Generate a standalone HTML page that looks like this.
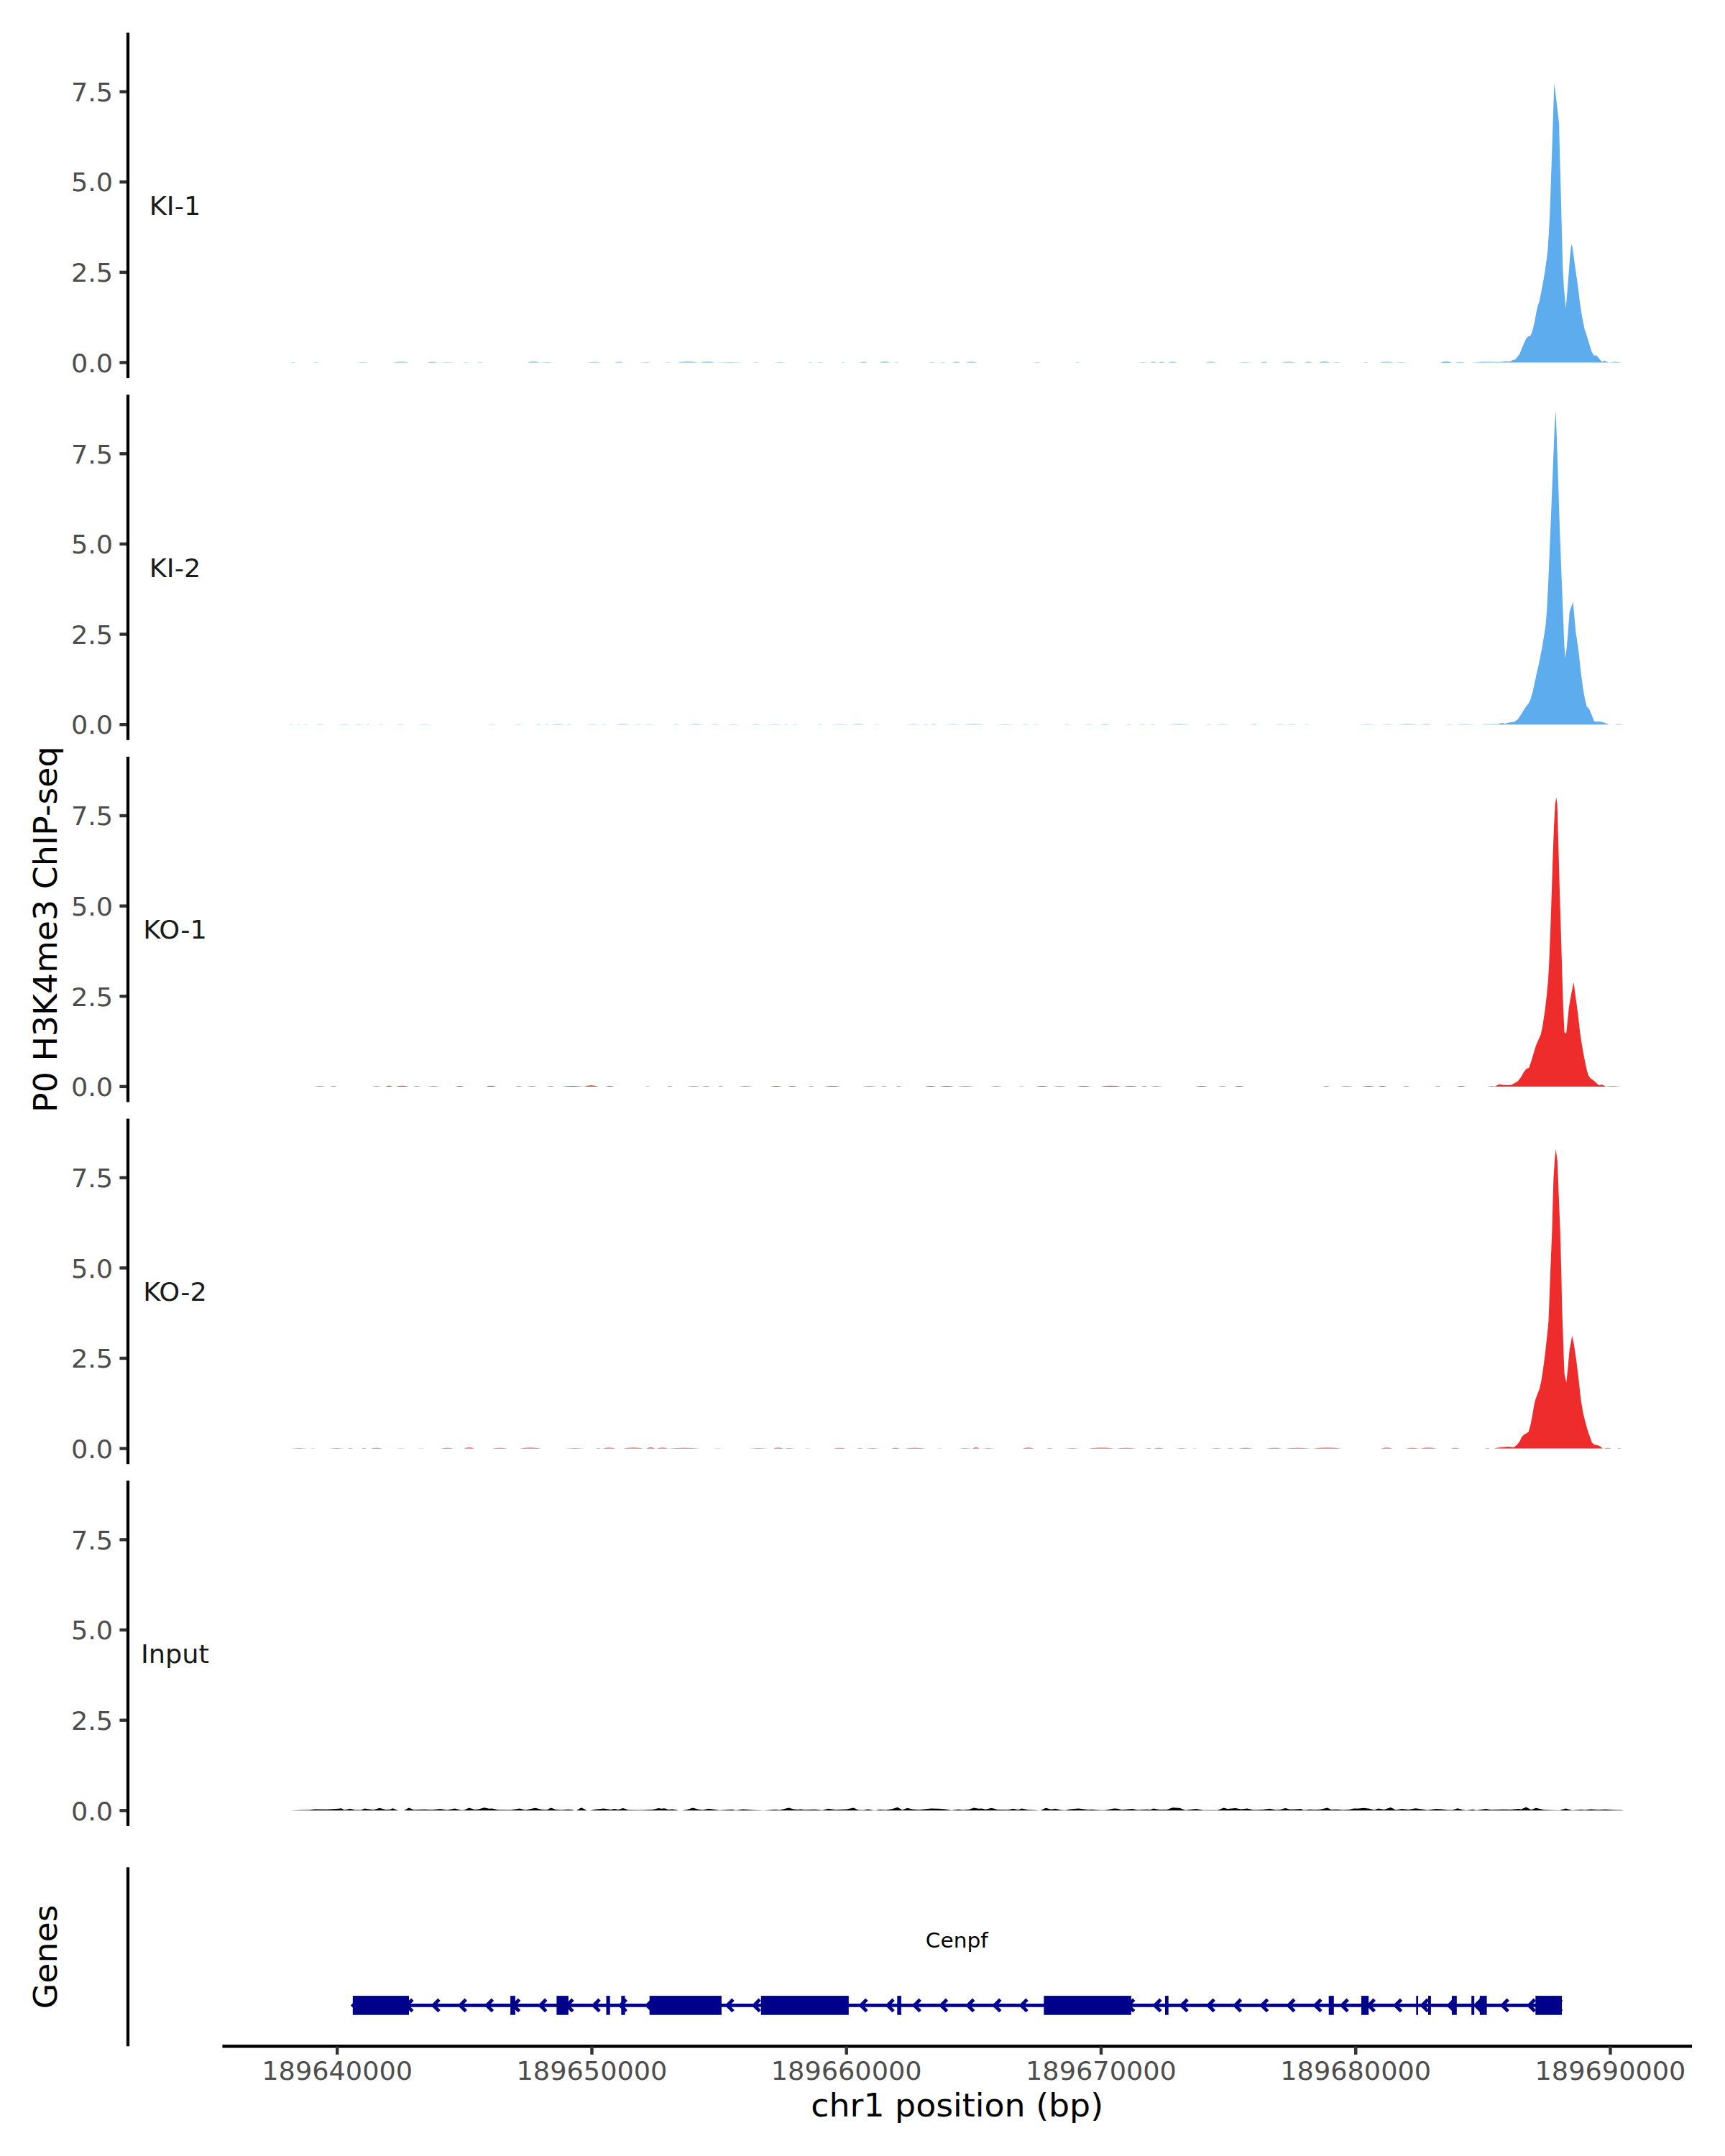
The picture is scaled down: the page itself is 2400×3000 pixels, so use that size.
<!DOCTYPE html>
<html lang="en"><head><meta charset="utf-8"><title>P0 H3K4me3 ChIP-seq coverage — Cenpf</title>
<style>html,body{margin:0;padding:0;background:#fff}svg{display:block}</style></head>
<body>
<svg width="2400" height="3000" viewBox="0 0 2400 3000" font-family='"DejaVu Sans", "Liberation Sans", sans-serif'>
<rect width="2400" height="3000" fill="#fff"/>
<path d="M2004.2 504.5 L2004.2 504.4 L2012.5 503.2 L2019.8 504.4 L2048.0 504.4 L2062.6 503.6 L2087.7 503.8 L2095.0 502.8 L2100.2 503.2 L2104.4 501.3 L2108.6 500.0 L2114.4 492.3 L2119.0 480.8 L2123.2 471.4 L2126.3 467.7 L2128.8 468.3 L2131.9 461.0 L2134.7 449.5 L2137.4 434.9 L2139.5 425.5 L2142.0 418.2 L2146.1 397.3 L2149.3 378.5 L2152.0 359.7 L2153.4 347.2 L2154.9 324.3 L2156.2 299.2 L2157.6 259.5 L2159.1 215.7 L2160.8 163.5 L2162.4 115.5 L2166.0 144.7 L2169.1 171.9 L2170.1 213.6 L2171.6 267.9 L2172.9 320.1 L2174.3 372.3 L2175.8 399.4 L2178.5 429.1 L2181.6 393.2 L2184.1 359.7 L2186.2 339.5 L2187.9 345.1 L2191.0 368.1 L2195.2 397.3 L2198.3 422.4 L2201.5 443.3 L2204.6 457.9 L2207.7 467.3 L2210.9 477.7 L2214.0 488.1 L2217.1 494.4 L2220.9 494.4 L2224.4 498.2 L2228.6 503.4 L2232.8 502.1 L2238.0 504.4 L2246.3 503.4 L2257.8 504.4 L2257.8 504.5 Z" fill="#5CACEE"/>
<path d="M2062.6 1008.2 L2062.6 1007.8 L2083.5 1007.4 L2089.8 1006.1 L2093.9 1007.0 L2100.2 1005.3 L2106.5 1004.5 L2111.7 1001.1 L2116.9 993.2 L2122.1 984.8 L2126.3 979.2 L2129.0 974.4 L2132.6 961.9 L2136.7 943.1 L2140.9 924.3 L2145.1 903.4 L2148.6 882.5 L2150.7 867.9 L2152.4 845.0 L2154.5 803.2 L2156.6 751.0 L2158.7 698.8 L2160.8 646.6 L2162.8 596.5 L2164.5 571.3 L2166.0 611.1 L2168.1 673.8 L2170.1 736.4 L2172.2 792.8 L2174.3 845.0 L2176.4 897.2 L2177.7 915.9 L2179.5 903.4 L2181.6 880.5 L2183.7 851.2 L2188.5 837.7 L2190.4 857.5 L2192.5 880.5 L2196.2 905.5 L2199.4 934.7 L2202.1 955.6 L2205.0 972.3 L2207.7 983.2 L2209.4 984.4 L2211.9 988.6 L2218.2 1004.0 L2227.6 1004.3 L2238.0 1007.8 L2238.0 1008.2 Z" fill="#5CACEE"/>
<path d="M2080.4 1511.9 L2080.4 1511.4 L2081.8 1510.8 L2085.6 1508.7 L2091.9 1509.7 L2102.3 1509.7 L2106.5 1507.6 L2111.7 1504.5 L2115.9 1499.3 L2120.0 1492.0 L2123.6 1487.2 L2127.3 1485.7 L2130.5 1476.3 L2133.6 1465.9 L2136.7 1455.4 L2139.9 1448.1 L2143.6 1439.8 L2146.1 1428.3 L2149.3 1407.4 L2152.0 1384.5 L2154.1 1361.5 L2155.5 1334.3 L2157.0 1296.8 L2158.7 1246.7 L2160.3 1196.6 L2162.0 1150.6 L2163.7 1119.3 L2165.3 1109.5 L2166.6 1119.3 L2168.1 1171.5 L2169.7 1230.0 L2171.6 1292.6 L2173.3 1349.0 L2174.9 1401.2 L2176.6 1436.6 L2179.1 1438.3 L2180.8 1422.0 L2182.9 1401.2 L2185.8 1384.5 L2189.4 1366.7 L2192.1 1386.5 L2195.2 1409.5 L2198.3 1436.6 L2201.5 1457.5 L2204.6 1474.2 L2207.7 1488.8 L2209.8 1496.1 L2212.5 1500.3 L2216.1 1502.4 L2220.3 1506.2 L2224.4 1510.1 L2228.6 1509.3 L2233.8 1511.4 L2233.8 1511.9 Z" fill="#EE2C2C"/>
<path d="M2079.3 2015.6 L2079.3 2015.2 L2083.5 2014.5 L2098.1 2012.9 L2106.5 2013.7 L2110.6 2010.6 L2114.4 2005.4 L2116.9 2000.1 L2120.0 1996.6 L2124.2 1993.9 L2126.7 1992.4 L2129.4 1982.4 L2131.9 1969.9 L2134.0 1957.3 L2135.7 1949.0 L2138.8 1940.6 L2142.0 1932.3 L2144.7 1919.8 L2147.2 1903.1 L2149.9 1882.2 L2152.4 1859.2 L2154.5 1838.3 L2155.8 1803.5 L2157.1 1767.4 L2159.3 1715.2 L2160.4 1673.4 L2161.4 1640.0 L2163.0 1615.0 L2164.4 1598.7 L2166.8 1615.0 L2167.8 1640.0 L2169.1 1673.4 L2170.8 1715.2 L2172.2 1767.4 L2173.3 1820.2 L2174.5 1853.6 L2175.6 1887.0 L2176.6 1912.0 L2179.3 1923.7 L2181.2 1905.2 L2183.7 1878.0 L2187.3 1858.6 L2190.0 1871.7 L2193.1 1892.6 L2196.2 1917.7 L2199.4 1946.9 L2202.5 1965.7 L2205.6 1978.2 L2208.8 1989.7 L2211.9 1999.1 L2215.0 2007.4 L2218.2 2010.2 L2222.3 2010.8 L2226.5 2012.7 L2229.6 2015.2 L2229.6 2015.6 Z" fill="#EE2C2C"/>
<path d="M404.3 504.5 Q408.1 503.7 411.9 504.5 Z M435.1 504.5 Q440.0 503.7 444.9 504.5 Z M495.9 504.5 Q504.1 503.5 512.2 504.5 Z M547.0 504.5 Q558.0 502.6 569.0 504.5 Z M594.5 504.5 Q601.7 502.3 609.0 504.5 Z M611.9 504.5 Q622.0 503.3 632.2 504.5 Z M643.8 504.5 Q648.1 503.5 652.5 504.5 Z M662.9 504.5 Q667.8 503.5 672.8 504.5 Z M733.6 504.5 Q742.3 502.1 751.0 504.5 Z M751.0 504.5 Q761.2 503.3 771.3 504.5 Z M817.7 504.5 Q827.2 503.1 836.8 504.5 Z M855.4 504.5 Q861.2 502.3 867.0 504.5 Z M889.0 504.5 Q898.3 503.4 907.5 504.5 Z M924.9 504.5 Q929.3 503.4 933.6 504.5 Z M942.3 504.5 Q956.8 502.1 971.3 504.5 Z M974.2 504.5 Q984.3 502.1 994.5 504.5 Z M994.5 504.5 Q1014.8 503.3 1035.1 504.5 Z M1047.8 504.5 Q1051.6 503.5 1055.4 504.5 Z M1075.7 504.5 Q1084.9 503.5 1094.2 504.5 Z M1123.8 504.5 Q1127.2 503.5 1130.7 504.5 Z M1136.5 504.5 Q1141.4 503.5 1146.4 504.5 Z M1169.6 504.5 Q1173.3 503.5 1177.1 504.5 Z M1196.2 504.5 Q1201.2 502.7 1206.1 504.5 Z M1223.5 504.5 Q1230.7 502.1 1238.0 504.5 Z M1243.8 504.5 Q1247.5 503.5 1251.3 504.5 Z M1291.3 504.5 Q1296.5 503.5 1301.7 504.5 Z M1307.5 504.5 Q1311.9 503.5 1316.2 504.5 Z M1324.9 504.5 Q1330.7 502.3 1336.5 504.5 Z M1343.5 504.5 Q1351.6 502.3 1359.7 504.5 Z M1438.0 504.5 Q1443.2 503.5 1448.4 504.5 Z M1495.9 504.5 Q1499.4 503.5 1502.9 504.5 Z M1582.9 504.5 Q1590.1 503.3 1597.4 504.5 Z M1600.3 504.5 Q1604.6 502.6 1609.0 504.5 Z M1611.9 504.5 Q1616.2 502.6 1620.6 504.5 Z M1624.6 504.5 Q1631.3 502.6 1638.0 504.5 Z M1676.8 504.5 Q1684.3 502.3 1691.9 504.5 Z M1720.9 504.5 Q1731.6 503.3 1742.3 504.5 Z M1753.9 504.5 Q1758.8 502.3 1763.8 504.5 Z M1782.9 504.5 Q1793.0 502.7 1803.2 504.5 Z M1814.8 504.5 Q1820.6 502.3 1826.4 504.5 Z M1835.1 504.5 Q1842.9 502.1 1850.7 504.5 Z M1852.5 504.5 Q1859.7 503.3 1867.0 504.5 Z M1895.9 504.5 Q1900.3 503.3 1904.6 504.5 Z M1919.1 504.5 Q1929.3 502.3 1939.4 504.5 Z M1939.4 504.5 Q1949.6 503.3 1959.7 504.5 Z M2003.2 504.5 Q2011.9 502.3 2020.6 504.5 Z M2023.5 504.5 Q2030.7 503.1 2038.0 504.5 Z" fill="#5CACEE"/>
<path d="M402.2 1008.2 Q405.2 1007.5 408.3 1008.2 Z M412.3 1008.2 Q415.4 1007.5 418.4 1008.2 Z M422.5 1008.2 Q425.5 1007.5 428.6 1008.2 Z M438.7 1008.2 Q445.8 1007.3 452.9 1008.2 Z M469.1 1008.2 Q479.3 1007.2 489.4 1008.2 Z M491.4 1008.2 Q498.6 1007.3 505.7 1008.2 Z M507.7 1008.2 Q511.7 1007.5 515.8 1008.2 Z M525.9 1008.2 Q530.0 1007.5 534.1 1008.2 Z M550.3 1008.2 Q557.4 1007.3 564.5 1008.2 Z M580.7 1008.2 Q590.9 1007.3 601.0 1008.2 Z M678.1 1008.2 Q684.2 1007.3 690.3 1008.2 Z M714.6 1008.2 Q720.7 1007.2 726.8 1008.2 Z M743.0 1008.2 Q749.1 1007.3 755.2 1008.2 Z M757.2 1008.2 Q761.3 1007.3 765.4 1008.2 Z M767.4 1008.2 Q776.5 1006.6 785.7 1008.2 Z M787.7 1008.2 Q791.7 1007.3 795.8 1008.2 Z M814.1 1008.2 Q824.2 1007.2 834.3 1008.2 Z M836.4 1008.2 Q840.4 1007.5 844.5 1008.2 Z M856.7 1008.2 Q866.8 1006.7 877.0 1008.2 Z M881.0 1008.2 Q887.1 1007.3 893.2 1008.2 Z M895.2 1008.2 Q903.3 1007.3 911.4 1008.2 Z M935.8 1008.2 Q940.9 1007.5 945.9 1008.2 Z M958.1 1008.2 Q968.3 1007.0 978.4 1008.2 Z M986.5 1008.2 Q994.6 1007.3 1002.8 1008.2 Z M1010.9 1008.2 Q1021.0 1007.2 1031.2 1008.2 Z M1043.3 1008.2 Q1051.4 1007.3 1059.6 1008.2 Z M1063.6 1008.2 Q1076.8 1007.3 1090.0 1008.2 Z M1090.0 1008.2 Q1093.0 1007.5 1096.1 1008.2 Z M1102.2 1008.2 Q1106.2 1007.5 1110.3 1008.2 Z M1136.7 1008.2 Q1140.7 1007.3 1144.8 1008.2 Z M1154.9 1008.2 Q1169.1 1007.2 1183.3 1008.2 Z M1185.4 1008.2 Q1194.5 1006.7 1203.6 1008.2 Z M1215.8 1008.2 Q1219.9 1007.3 1223.9 1008.2 Z M1258.4 1008.2 Q1269.6 1007.2 1280.7 1008.2 Z M1282.8 1008.2 Q1287.8 1007.3 1292.9 1008.2 Z M1294.9 1008.2 Q1299.0 1006.7 1303.0 1008.2 Z M1313.2 1008.2 Q1325.4 1007.2 1337.5 1008.2 Z M1339.6 1008.2 Q1354.8 1006.6 1370.0 1008.2 Z M1384.2 1008.2 Q1398.4 1007.2 1412.6 1008.2 Z M1420.7 1008.2 Q1426.8 1007.3 1432.9 1008.2 Z M1437.0 1008.2 Q1441.0 1007.5 1445.1 1008.2 Z M1479.6 1008.2 Q1484.6 1007.3 1489.7 1008.2 Z M1508.0 1008.2 Q1515.1 1007.2 1522.2 1008.2 Z M1530.3 1008.2 Q1537.4 1006.6 1544.5 1008.2 Z M1564.8 1008.2 Q1569.9 1007.3 1574.9 1008.2 Z M1583.0 1008.2 Q1589.1 1007.3 1595.2 1008.2 Z M1599.3 1008.2 Q1604.3 1007.5 1609.4 1008.2 Z M1625.7 1008.2 Q1640.9 1006.7 1656.1 1008.2 Z M1676.4 1008.2 Q1681.4 1007.3 1686.5 1008.2 Z M1690.6 1008.2 Q1700.7 1007.2 1710.9 1008.2 Z M1741.3 1008.2 Q1745.4 1007.3 1749.4 1008.2 Z M1773.8 1008.2 Q1781.9 1007.2 1790.0 1008.2 Z M1738.7 1008.2 Q1744.8 1007.3 1750.9 1008.2 Z M1773.2 1008.2 Q1780.3 1007.2 1787.4 1008.2 Z M1789.4 1008.2 Q1797.5 1007.2 1805.7 1008.2 Z M1813.8 1008.2 Q1817.8 1007.3 1821.9 1008.2 Z M1888.8 1008.2 Q1903.0 1007.2 1917.2 1008.2 Z M1921.3 1008.2 Q1931.4 1007.2 1941.6 1008.2 Z M1943.6 1008.2 Q1958.8 1007.0 1974.1 1008.2 Z M1976.1 1008.2 Q1984.2 1006.6 1992.3 1008.2 Z M2010.6 1008.2 Q2016.7 1007.2 2022.8 1008.2 Z M2024.8 1008.2 Q2040.0 1007.2 2055.2 1008.2 Z M2245.9 1008.2 Q2252.0 1007.0 2258.1 1008.2 Z" fill="#5CACEE"/>
<path d="M436.7 1511.9 Q444.8 1510.7 452.9 1511.9 Z M459.0 1511.9 Q464.1 1510.7 469.1 1511.9 Z M517.8 1511.9 Q523.9 1510.5 530.0 1511.9 Z M536.1 1511.9 Q541.2 1509.4 546.2 1511.9 Z M550.3 1511.9 Q559.4 1509.7 568.6 1511.9 Z M574.6 1511.9 Q579.7 1510.7 584.8 1511.9 Z M594.9 1511.9 Q603.0 1510.7 611.2 1511.9 Z M633.5 1511.9 Q639.6 1510.2 645.7 1511.9 Z M676.1 1511.9 Q683.2 1509.4 690.3 1511.9 Z M716.7 1511.9 Q721.7 1510.7 726.8 1511.9 Z M732.9 1511.9 Q740.0 1510.5 747.1 1511.9 Z M761.3 1511.9 Q766.4 1510.5 771.4 1511.9 Z M781.6 1511.9 Q796.8 1510.2 812.0 1511.9 Z M812.0 1511.9 Q822.2 1508.5 832.3 1511.9 Z M842.5 1511.9 Q848.6 1509.9 854.6 1511.9 Z M897.2 1511.9 Q901.3 1510.9 905.4 1511.9 Z M927.7 1511.9 Q931.7 1510.7 935.8 1511.9 Z M956.1 1511.9 Q965.2 1510.4 974.3 1511.9 Z M976.4 1511.9 Q982.5 1510.5 988.6 1511.9 Z M998.7 1511.9 Q1002.8 1510.7 1006.8 1511.9 Z M1027.1 1511.9 Q1037.2 1510.4 1047.4 1511.9 Z M1071.7 1511.9 Q1079.9 1510.2 1088.0 1511.9 Z M1096.1 1511.9 Q1102.2 1510.2 1108.3 1511.9 Z M1124.5 1511.9 Q1128.6 1510.7 1132.6 1511.9 Z M1146.8 1511.9 Q1158.0 1510.2 1169.1 1511.9 Z M1199.6 1511.9 Q1209.7 1510.4 1219.9 1511.9 Z M1225.9 1511.9 Q1230.0 1510.7 1234.1 1511.9 Z M1246.2 1511.9 Q1250.3 1510.7 1254.3 1511.9 Z M1286.8 1511.9 Q1294.9 1509.9 1303.0 1511.9 Z M1307.1 1511.9 Q1317.2 1509.9 1327.4 1511.9 Z M1331.4 1511.9 Q1343.6 1510.5 1355.8 1511.9 Z M1378.1 1511.9 Q1386.2 1510.7 1394.3 1511.9 Z M1416.7 1511.9 Q1421.3 1510.9 1426.0 1511.9 Z M1441.0 1511.9 Q1450.1 1509.9 1459.3 1511.9 Z M1465.4 1511.9 Q1474.5 1510.4 1483.6 1511.9 Z M1497.8 1511.9 Q1508.0 1509.9 1518.1 1511.9 Z M1530.3 1511.9 Q1545.5 1509.4 1560.7 1511.9 Z M1562.8 1511.9 Q1572.9 1509.9 1583.0 1511.9 Z M1587.1 1511.9 Q1592.2 1510.7 1597.2 1511.9 Z M1600.5 1511.9 Q1609.0 1510.5 1617.5 1511.9 Z M1663.0 1511.9 Q1671.7 1509.9 1680.4 1511.9 Z M1694.6 1511.9 Q1700.7 1510.4 1706.8 1511.9 Z M1717.0 1511.9 Q1724.1 1510.2 1731.2 1511.9 Z M1840.1 1511.9 Q1845.2 1510.7 1850.3 1511.9 Z M1864.5 1511.9 Q1873.6 1510.4 1882.8 1511.9 Z M1894.9 1511.9 Q1904.1 1509.9 1913.2 1511.9 Z M1917.2 1511.9 Q1923.3 1509.9 1929.4 1511.9 Z M1951.7 1511.9 Q1956.4 1510.5 1961.1 1511.9 Z M1996.4 1511.9 Q2000.4 1510.5 2004.5 1511.9 Z M2026.8 1511.9 Q2032.9 1509.9 2039.0 1511.9 Z M2069.4 1511.9 Q2075.5 1510.5 2081.6 1511.9 Z M2233.8 1511.9 Q2243.9 1510.5 2254.1 1511.9 Z" fill="#EE2C2C"/>
<path d="M404.2 2015.6 Q416.4 2014.6 428.6 2015.6 Z M430.6 2015.6 Q435.7 2014.9 440.7 2015.6 Z M457.0 2015.6 Q468.1 2014.2 479.3 2015.6 Z M483.3 2015.6 Q487.4 2014.6 491.4 2015.6 Z M501.6 2015.6 Q506.7 2014.6 511.7 2015.6 Z M515.8 2015.6 Q523.9 2014.1 532.0 2015.6 Z M550.3 2015.6 Q557.4 2014.8 564.5 2015.6 Z M580.7 2015.6 Q585.8 2014.8 590.9 2015.6 Z M613.2 2015.6 Q622.3 2014.1 631.4 2015.6 Z M645.7 2015.6 Q652.8 2013.0 659.9 2015.6 Z M684.2 2015.6 Q695.4 2013.9 706.5 2015.6 Z M722.8 2015.6 Q738.0 2013.6 753.2 2015.6 Z M785.7 2015.6 Q799.9 2014.4 814.1 2015.6 Z M828.3 2015.6 Q832.3 2014.6 836.4 2015.6 Z M838.4 2015.6 Q847.5 2013.6 856.7 2015.6 Z M866.8 2015.6 Q881.0 2013.6 895.2 2015.6 Z M899.3 2015.6 Q905.4 2013.0 911.4 2015.6 Z M913.5 2015.6 Q921.6 2013.6 929.7 2015.6 Z M929.7 2015.6 Q952.0 2014.1 974.3 2015.6 Z M992.6 2015.6 Q998.7 2014.8 1004.8 2015.6 Z M1041.3 2015.6 Q1055.5 2014.4 1069.7 2015.6 Z M1075.8 2015.6 Q1082.9 2013.4 1090.0 2015.6 Z M1090.0 2015.6 Q1098.1 2014.6 1106.2 2015.6 Z M1118.4 2015.6 Q1123.5 2014.8 1128.6 2015.6 Z M1159.0 2015.6 Q1168.1 2014.1 1177.2 2015.6 Z M1191.4 2015.6 Q1196.5 2014.6 1201.6 2015.6 Z M1203.6 2015.6 Q1213.8 2014.2 1223.9 2015.6 Z M1240.1 2015.6 Q1246.2 2013.9 1252.3 2015.6 Z M1258.4 2015.6 Q1273.6 2013.9 1288.8 2015.6 Z M1303.0 2015.6 Q1307.1 2014.8 1311.2 2015.6 Z M1333.5 2015.6 Q1342.6 2014.2 1351.7 2015.6 Z M1353.0 2015.6 Q1357.8 2012.9 1362.7 2015.6 Z M1365.9 2015.6 Q1375.1 2014.2 1384.2 2015.6 Z M1422.8 2015.6 Q1430.9 2013.4 1439.0 2015.6 Z M1455.2 2015.6 Q1460.3 2014.6 1465.4 2015.6 Z M1481.6 2015.6 Q1491.7 2014.4 1501.9 2015.6 Z M1514.1 2015.6 Q1532.3 2013.4 1550.6 2015.6 Z M1552.6 2015.6 Q1566.8 2013.9 1581.0 2015.6 Z M1593.2 2015.6 Q1598.3 2014.6 1603.3 2015.6 Z M1605.4 2015.6 Q1612.5 2013.9 1619.6 2015.6 Z M1635.8 2015.6 Q1643.9 2014.6 1652.0 2015.6 Z M1658.1 2015.6 Q1662.2 2014.8 1666.2 2015.6 Z M1684.5 2015.6 Q1692.6 2014.2 1700.7 2015.6 Z M1706.8 2015.6 Q1711.9 2014.6 1717.0 2015.6 Z M1723.0 2015.6 Q1733.2 2013.9 1743.3 2015.6 Z M1761.6 2015.6 Q1773.2 2013.9 1784.7 2015.6 Z M1787.4 2015.6 Q1805.7 2014.1 1823.9 2015.6 Z M1825.9 2015.6 Q1846.2 2013.6 1866.5 2015.6 Z M1921.3 2015.6 Q1929.4 2013.6 1937.5 2015.6 Z M1955.8 2015.6 Q1964.9 2013.9 1974.1 2015.6 Z M1976.1 2015.6 Q1987.2 2013.6 1998.4 2015.6 Z M2018.7 2015.6 Q2024.8 2013.9 2030.9 2015.6 Z M2065.4 2015.6 Q2069.4 2014.4 2073.5 2015.6 Z M2231.7 2015.6 Q2236.8 2014.1 2241.9 2015.6 Z M2250.0 2015.6 Q2253.0 2014.4 2256.1 2015.6 Z" fill="#EE2C2C"/>
<path d="M404.1 2519.3 L404.1 2519.3 L416.3 2518.8 L430.0 2518.5 L438.1 2517.4 L454.5 2517.7 L470.8 2516.8 L474.9 2516.3 L479.0 2518.5 L487.2 2516.8 L494.0 2518.5 L502.2 2518.5 L507.6 2516.6 L519.9 2518.2 L528.1 2515.8 L536.2 2517.9 L541.7 2517.9 L546.6 2516.3 L552.6 2518.8 L555.3 2519.3 L562.1 2519.3 L568.9 2515.5 L575.7 2518.2 L590.7 2517.7 L601.6 2518.2 L612.5 2517.1 L622.1 2518.5 L633.0 2516.6 L641.1 2518.8 L645.2 2518.8 L652.8 2515.5 L660.2 2517.9 L665.7 2517.4 L673.8 2515.2 L680.6 2516.8 L684.7 2516.6 L692.9 2518.2 L710.6 2518.5 L722.9 2516.6 L731.0 2518.5 L744.7 2515.8 L754.2 2517.9 L761.0 2518.2 L766.5 2515.5 L773.3 2517.9 L781.4 2518.5 L789.6 2517.7 L795.1 2517.9 L799.2 2519.3 L801.9 2519.3 L808.7 2515.2 L816.9 2519.3 L821.0 2519.3 L827.8 2517.7 L840.0 2516.6 L849.6 2517.9 L855.0 2517.1 L860.5 2517.9 L866.5 2516.0 L870.0 2517.1 L874.1 2518.5 L891.8 2518.8 L908.1 2517.9 L916.3 2516.0 L920.4 2516.8 L924.5 2516.3 L929.9 2517.9 L935.4 2517.4 L941.4 2518.5 L944.1 2519.3 L949.0 2519.3 L955.8 2517.9 L964.0 2515.5 L970.8 2517.4 L977.6 2518.5 L985.8 2516.8 L995.3 2517.9 L1000.8 2519.0 L1018.5 2517.7 L1023.9 2519.0 L1033.5 2517.4 L1047.1 2518.5 L1058.0 2519.0 L1062.1 2519.3 L1077.1 2517.9 L1085.2 2518.5 L1097.5 2515.5 L1104.3 2517.4 L1109.8 2517.9 L1113.9 2517.4 L1119.3 2518.2 L1132.9 2517.7 L1138.4 2518.2 L1143.8 2519.0 L1152.0 2516.8 L1162.9 2518.2 L1177.9 2517.4 L1187.4 2515.5 L1194.2 2518.5 L1201.0 2518.8 L1207.9 2517.4 L1213.8 2518.8 L1217.4 2519.3 L1224.2 2517.9 L1232.4 2518.5 L1241.9 2517.1 L1248.7 2514.7 L1255.5 2518.5 L1262.3 2515.8 L1269.2 2517.4 L1278.7 2518.2 L1295.0 2516.6 L1305.9 2516.8 L1315.5 2517.4 L1323.7 2519.0 L1333.2 2517.7 L1340.0 2518.5 L1348.2 2517.7 L1355.0 2515.5 L1361.8 2516.8 L1365.9 2516.6 L1371.3 2517.7 L1379.5 2515.8 L1387.7 2517.9 L1402.7 2518.2 L1409.5 2516.8 L1416.3 2518.2 L1421.7 2516.6 L1429.9 2518.2 L1440.8 2518.8 L1444.9 2519.3 L1447.6 2519.3 L1455.0 2515.8 L1462.6 2517.7 L1468.1 2516.8 L1476.2 2518.5 L1481.7 2519.0 L1488.5 2517.4 L1496.7 2516.8 L1500.8 2516.6 L1514.4 2518.2 L1518.5 2517.7 L1530.7 2518.8 L1537.5 2518.8 L1549.8 2516.6 L1555.2 2516.8 L1560.7 2518.2 L1575.7 2517.1 L1582.5 2518.5 L1596.1 2517.7 L1600.2 2518.2 L1604.8 2516.6 L1612.5 2517.9 L1623.4 2517.9 L1631.5 2515.2 L1641.1 2515.8 L1649.2 2518.8 L1664.2 2517.1 L1673.8 2518.8 L1694.2 2518.8 L1702.4 2515.5 L1707.8 2517.1 L1718.7 2516.0 L1726.9 2517.4 L1735.1 2516.6 L1744.6 2518.5 L1756.9 2517.9 L1766.4 2516.8 L1775.9 2518.5 L1781.4 2517.9 L1788.2 2516.0 L1795.0 2517.7 L1803.2 2517.4 L1810.0 2517.1 L1814.1 2518.8 L1822.3 2517.7 L1829.1 2518.2 L1837.2 2517.7 L1846.8 2515.5 L1852.2 2517.9 L1860.4 2517.7 L1868.6 2518.5 L1876.8 2517.9 L1883.6 2516.6 L1890.4 2516.6 L1897.2 2515.8 L1905.4 2516.8 L1912.2 2518.5 L1917.6 2516.6 L1925.8 2517.9 L1934.8 2514.9 L1942.1 2518.5 L1950.3 2517.1 L1959.9 2517.9 L1969.4 2516.3 L1980.3 2517.7 L1985.7 2518.8 L1998.0 2517.1 L2006.2 2517.4 L2014.3 2518.5 L2021.2 2518.5 L2028.0 2516.3 L2036.1 2518.5 L2040.2 2519.0 L2049.2 2517.7 L2053.9 2519.0 L2067.5 2517.1 L2074.3 2518.2 L2090.6 2517.7 L2101.5 2517.9 L2112.4 2517.1 L2116.5 2517.4 L2123.3 2514.4 L2130.1 2518.2 L2137.0 2515.8 L2147.9 2518.2 L2158.8 2518.8 L2169.7 2519.0 L2178.4 2516.6 L2187.4 2519.0 L2199.6 2517.9 L2205.1 2518.5 L2213.2 2517.4 L2224.1 2518.2 L2233.7 2517.7 L2245.9 2518.5 L2256.8 2518.8 L2259.0 2519.3 L2259.0 2519.3 Z" fill="#000"/>
<rect x="175.85" y="45.5" width="4.3" height="480.6" fill="#000"/>
<rect x="166.4" y="502.30" width="9.8" height="4.4" fill="#333"/>
<text transform="translate(157.2 517.7) scale(1 0.957)" font-size="36.67" text-anchor="end" fill="#4D4D4D">0.0</text>
<rect x="166.4" y="376.68" width="9.8" height="4.4" fill="#333"/>
<text transform="translate(157.2 392.1) scale(1 0.957)" font-size="36.67" text-anchor="end" fill="#4D4D4D">2.5</text>
<rect x="166.4" y="251.05" width="9.8" height="4.4" fill="#333"/>
<text transform="translate(157.2 266.4) scale(1 0.957)" font-size="36.67" text-anchor="end" fill="#4D4D4D">5.0</text>
<rect x="166.4" y="125.42" width="9.8" height="4.4" fill="#333"/>
<text transform="translate(157.2 140.8) scale(1 0.957)" font-size="36.67" text-anchor="end" fill="#4D4D4D">7.5</text>
<rect x="175.85" y="549.2" width="4.3" height="480.6" fill="#000"/>
<rect x="166.4" y="1006.00" width="9.8" height="4.4" fill="#333"/>
<text transform="translate(157.2 1021.4) scale(1 0.957)" font-size="36.67" text-anchor="end" fill="#4D4D4D">0.0</text>
<rect x="166.4" y="880.38" width="9.8" height="4.4" fill="#333"/>
<text transform="translate(157.2 895.8) scale(1 0.957)" font-size="36.67" text-anchor="end" fill="#4D4D4D">2.5</text>
<rect x="166.4" y="754.75" width="9.8" height="4.4" fill="#333"/>
<text transform="translate(157.2 770.2) scale(1 0.957)" font-size="36.67" text-anchor="end" fill="#4D4D4D">5.0</text>
<rect x="166.4" y="629.12" width="9.8" height="4.4" fill="#333"/>
<text transform="translate(157.2 644.5) scale(1 0.957)" font-size="36.67" text-anchor="end" fill="#4D4D4D">7.5</text>
<rect x="175.85" y="1052.9" width="4.3" height="480.6" fill="#000"/>
<rect x="166.4" y="1509.70" width="9.8" height="4.4" fill="#333"/>
<text transform="translate(157.2 1525.1) scale(1 0.957)" font-size="36.67" text-anchor="end" fill="#4D4D4D">0.0</text>
<rect x="166.4" y="1384.08" width="9.8" height="4.4" fill="#333"/>
<text transform="translate(157.2 1399.5) scale(1 0.957)" font-size="36.67" text-anchor="end" fill="#4D4D4D">2.5</text>
<rect x="166.4" y="1258.45" width="9.8" height="4.4" fill="#333"/>
<text transform="translate(157.2 1273.9) scale(1 0.957)" font-size="36.67" text-anchor="end" fill="#4D4D4D">5.0</text>
<rect x="166.4" y="1132.83" width="9.8" height="4.4" fill="#333"/>
<text transform="translate(157.2 1148.2) scale(1 0.957)" font-size="36.67" text-anchor="end" fill="#4D4D4D">7.5</text>
<rect x="175.85" y="1556.6" width="4.3" height="480.6" fill="#000"/>
<rect x="166.4" y="2013.40" width="9.8" height="4.4" fill="#333"/>
<text transform="translate(157.2 2028.8) scale(1 0.957)" font-size="36.67" text-anchor="end" fill="#4D4D4D">0.0</text>
<rect x="166.4" y="1887.77" width="9.8" height="4.4" fill="#333"/>
<text transform="translate(157.2 1903.2) scale(1 0.957)" font-size="36.67" text-anchor="end" fill="#4D4D4D">2.5</text>
<rect x="166.4" y="1762.15" width="9.8" height="4.4" fill="#333"/>
<text transform="translate(157.2 1777.5) scale(1 0.957)" font-size="36.67" text-anchor="end" fill="#4D4D4D">5.0</text>
<rect x="166.4" y="1636.52" width="9.8" height="4.4" fill="#333"/>
<text transform="translate(157.2 1651.9) scale(1 0.957)" font-size="36.67" text-anchor="end" fill="#4D4D4D">7.5</text>
<rect x="175.85" y="2060.3" width="4.3" height="480.6" fill="#000"/>
<rect x="166.4" y="2517.10" width="9.8" height="4.4" fill="#333"/>
<text transform="translate(157.2 2532.5) scale(1 0.957)" font-size="36.67" text-anchor="end" fill="#4D4D4D">0.0</text>
<rect x="166.4" y="2391.48" width="9.8" height="4.4" fill="#333"/>
<text transform="translate(157.2 2406.9) scale(1 0.957)" font-size="36.67" text-anchor="end" fill="#4D4D4D">2.5</text>
<rect x="166.4" y="2265.85" width="9.8" height="4.4" fill="#333"/>
<text transform="translate(157.2 2281.2) scale(1 0.957)" font-size="36.67" text-anchor="end" fill="#4D4D4D">5.0</text>
<rect x="166.4" y="2140.23" width="9.8" height="4.4" fill="#333"/>
<text transform="translate(157.2 2155.6) scale(1 0.957)" font-size="36.67" text-anchor="end" fill="#4D4D4D">7.5</text>
<text transform="translate(243.5 298.9) scale(1 0.957)" font-size="36.67" text-anchor="middle" fill="#1A1A1A">KI-1</text>
<text transform="translate(243.5 802.6) scale(1 0.957)" font-size="36.67" text-anchor="middle" fill="#1A1A1A">KI-2</text>
<text transform="translate(243.5 1306.3) scale(1 0.957)" font-size="36.67" text-anchor="middle" fill="#1A1A1A">KO-1</text>
<text transform="translate(243.5 1810.0) scale(1 0.957)" font-size="36.67" text-anchor="middle" fill="#1A1A1A">KO-2</text>
<text transform="translate(243.5 2313.7) scale(1 0.957)" font-size="36.67" text-anchor="middle" fill="#1A1A1A">Input</text>
<text transform="translate(79 1293.2) rotate(-90) scale(1 0.957)" font-size="45.83" text-anchor="middle" fill="#000">P0 H3K4me3 ChIP-seq</text>
<rect x="175.85" y="2598.3" width="4.3" height="249.0" fill="#000"/>
<text transform="translate(79 2722.8) rotate(-90) scale(1 0.957)" font-size="45.83" text-anchor="middle" fill="#000">Genes</text>
<rect x="309.4" y="2845.05" width="2044.7" height="4.5" fill="#000"/>
<rect x="467.00" y="2847.3" width="4.4" height="11.6" fill="#333"/>
<text transform="translate(469.2 2894) scale(1 0.957)" font-size="36.67" text-anchor="middle" fill="#4D4D4D">189640000</text>
<rect x="821.26" y="2847.3" width="4.4" height="11.6" fill="#333"/>
<text transform="translate(823.5 2894) scale(1 0.957)" font-size="36.67" text-anchor="middle" fill="#4D4D4D">189650000</text>
<rect x="1175.52" y="2847.3" width="4.4" height="11.6" fill="#333"/>
<text transform="translate(1177.7 2894) scale(1 0.957)" font-size="36.67" text-anchor="middle" fill="#4D4D4D">189660000</text>
<rect x="1529.78" y="2847.3" width="4.4" height="11.6" fill="#333"/>
<text transform="translate(1532.0 2894) scale(1 0.957)" font-size="36.67" text-anchor="middle" fill="#4D4D4D">189670000</text>
<rect x="1884.04" y="2847.3" width="4.4" height="11.6" fill="#333"/>
<text transform="translate(1886.2 2894) scale(1 0.957)" font-size="36.67" text-anchor="middle" fill="#4D4D4D">189680000</text>
<rect x="2238.30" y="2847.3" width="4.4" height="11.6" fill="#333"/>
<text transform="translate(2240.5 2894) scale(1 0.957)" font-size="36.67" text-anchor="middle" fill="#4D4D4D">189690000</text>
<text transform="translate(1331.7 2944.8) scale(1 0.957)" font-size="45.83" text-anchor="middle" fill="#000">chr1 position (bp)</text>
<line x1="491.3" y1="2790.4" x2="2170.5" y2="2790.4" stroke="#00008B" stroke-width="4.8" stroke-linecap="round"/>
<path d="M499.50 2782.20 L491.30 2790.40 L499.50 2798.60 M536.68 2782.20 L528.48 2790.40 L536.68 2798.60 M573.86 2782.20 L565.66 2790.40 L573.86 2798.60 M611.04 2782.20 L602.84 2790.40 L611.04 2798.60 M648.22 2782.20 L640.02 2790.40 L648.22 2798.60 M685.40 2782.20 L677.20 2790.40 L685.40 2798.60 M722.58 2782.20 L714.38 2790.40 L722.58 2798.60 M759.76 2782.20 L751.56 2790.40 L759.76 2798.60 M796.94 2782.20 L788.74 2790.40 L796.94 2798.60 M834.12 2782.20 L825.92 2790.40 L834.12 2798.60 M871.30 2782.20 L863.10 2790.40 L871.30 2798.60 M908.48 2782.20 L900.28 2790.40 L908.48 2798.60 M945.66 2782.20 L937.46 2790.40 L945.66 2798.60 M982.84 2782.20 L974.64 2790.40 L982.84 2798.60 M1020.02 2782.20 L1011.82 2790.40 L1020.02 2798.60 M1057.20 2782.20 L1049.00 2790.40 L1057.20 2798.60 M1094.38 2782.20 L1086.18 2790.40 L1094.38 2798.60 M1131.56 2782.20 L1123.36 2790.40 L1131.56 2798.60 M1168.74 2782.20 L1160.54 2790.40 L1168.74 2798.60 M1205.92 2782.20 L1197.72 2790.40 L1205.92 2798.60 M1243.10 2782.20 L1234.90 2790.40 L1243.10 2798.60 M1280.28 2782.20 L1272.08 2790.40 L1280.28 2798.60 M1317.46 2782.20 L1309.26 2790.40 L1317.46 2798.60 M1354.64 2782.20 L1346.44 2790.40 L1354.64 2798.60 M1391.82 2782.20 L1383.62 2790.40 L1391.82 2798.60 M1429.00 2782.20 L1420.80 2790.40 L1429.00 2798.60 M1466.18 2782.20 L1457.98 2790.40 L1466.18 2798.60 M1503.36 2782.20 L1495.16 2790.40 L1503.36 2798.60 M1540.54 2782.20 L1532.34 2790.40 L1540.54 2798.60 M1577.72 2782.20 L1569.52 2790.40 L1577.72 2798.60 M1614.90 2782.20 L1606.70 2790.40 L1614.90 2798.60 M1652.08 2782.20 L1643.88 2790.40 L1652.08 2798.60 M1689.26 2782.20 L1681.06 2790.40 L1689.26 2798.60 M1726.44 2782.20 L1718.24 2790.40 L1726.44 2798.60 M1763.62 2782.20 L1755.42 2790.40 L1763.62 2798.60 M1800.80 2782.20 L1792.60 2790.40 L1800.80 2798.60 M1837.98 2782.20 L1829.78 2790.40 L1837.98 2798.60 M1875.16 2782.20 L1866.96 2790.40 L1875.16 2798.60 M1912.34 2782.20 L1904.14 2790.40 L1912.34 2798.60 M1949.52 2782.20 L1941.32 2790.40 L1949.52 2798.60 M1986.70 2782.20 L1978.50 2790.40 L1986.70 2798.60 M2023.88 2782.20 L2015.68 2790.40 L2023.88 2798.60 M2061.06 2782.20 L2052.86 2790.40 L2061.06 2798.60 M2098.24 2782.20 L2090.04 2790.40 L2098.24 2798.60 M2135.42 2782.20 L2127.22 2790.40 L2135.42 2798.60 M2172.60 2782.20 L2164.40 2790.40 L2172.60 2798.60" fill="none" stroke="#00008B" stroke-width="4.8" stroke-linejoin="miter"/>
<rect x="490.8" y="2777.1" width="78.2" height="26.6" fill="#00008B"/>
<rect x="710.1" y="2777.1" width="6.8" height="26.6" fill="#00008B"/>
<rect x="774.4" y="2777.1" width="16.4" height="26.6" fill="#00008B"/>
<rect x="843.5" y="2777.1" width="5.2" height="26.6" fill="#00008B"/>
<rect x="864.3" y="2777.1" width="5.3" height="26.6" fill="#00008B"/>
<rect x="903.7" y="2777.1" width="100.2" height="26.6" fill="#00008B"/>
<rect x="1058.8" y="2777.1" width="122.0" height="26.6" fill="#00008B"/>
<rect x="1248.3" y="2777.1" width="5.6" height="26.6" fill="#00008B"/>
<rect x="1452.3" y="2777.1" width="121.5" height="26.6" fill="#00008B"/>
<rect x="1621.0" y="2777.1" width="4.7" height="26.6" fill="#00008B"/>
<rect x="1848.7" y="2777.1" width="7.1" height="26.6" fill="#00008B"/>
<rect x="1894.0" y="2777.1" width="10.2" height="26.6" fill="#00008B"/>
<rect x="1970.3" y="2777.1" width="2.7" height="26.6" fill="#00008B"/>
<rect x="1987.0" y="2777.1" width="3.9" height="26.6" fill="#00008B"/>
<rect x="2019.9" y="2777.1" width="6.9" height="26.6" fill="#00008B"/>
<rect x="2047.2" y="2777.1" width="4.0" height="26.6" fill="#00008B"/>
<rect x="2058.8" y="2777.1" width="9.8" height="26.6" fill="#00008B"/>
<rect x="2136.3" y="2777.1" width="36.7" height="26.6" fill="#00008B"/>
<text transform="translate(1331.2 2709.9) scale(1 0.957)" font-size="29.6" text-anchor="middle" fill="#000">Cenpf</text>
</svg>
</body></html>
